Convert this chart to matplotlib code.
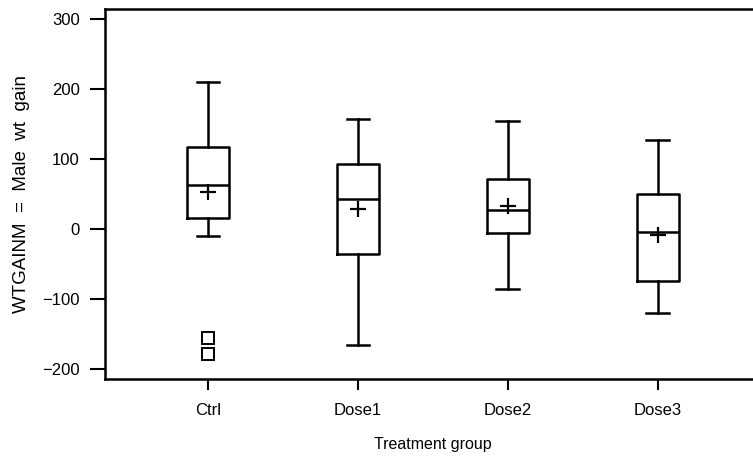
import matplotlib
matplotlib.use("Agg")
import matplotlib.pyplot as plt

categories = ["Ctrl", "Dose1", "Dose2", "Dose3"]
whislo = [-9.5, -165.7, -85.7, -120.0]
q1 = [15.2, -35.7, -5.7, -73.8]
med = [62.9, 42.9, 27.0, -4.8]
q3 = [117.6, 92.4, 71.4, 50.0]
whishi = [210.0, 157.0, 153.8, 126.7]
means = [53.0, 28.6, 33.3, -8.6]
fliers = [[-156.0, -178.6], [], [], []]
yticks = [-200, -100, 0, 100, 200, 300]

plt.rcParams['font.family'] = ['Liberation Sans', 'DejaVu Sans']

fig = plt.figure(figsize=(7.53, 4.61), dpi=100)
ax = fig.add_axes([105/753, 1 - 379/461, 1 - 105/753 + 0.01, (379 - 9)/461])

stats = []
for i, c in enumerate(categories):
    stats.append(dict(label=c, whislo=whislo[i], q1=q1[i], med=med[i], q3=q3[i],
                      whishi=whishi[i], mean=means[i], fliers=fliers[i]))

lw = 1.8
ax.bxp(stats, positions=[1, 2, 3, 4], widths=0.28, showmeans=True, showfliers=True,
       boxprops=dict(color='black', linewidth=lw),
       medianprops=dict(color='black', linewidth=lw),
       whiskerprops=dict(color='black', linewidth=lw),
       capprops=dict(color='black', linewidth=lw),
       capwidths=0.15,
       meanprops=dict(marker='+', markeredgecolor='black', markersize=11, markeredgewidth=1.6),
       flierprops=dict(marker='s', markerfacecolor='none', markeredgecolor='black',
                       markersize=8, markeredgewidth=1.4))

ax.set_xlim(1 - 103/150, 4 + 103/150)
ax.set_ylim(-214, 314)
ax.set_yticks(yticks)
ax.set_yticklabels([str(v).replace('-', '\u2212') for v in yticks])
ax.set_xticks([1, 2, 3, 4])
ax.set_xticklabels(categories)
ax.spines['right'].set_visible(False)
for s in ['left', 'top', 'bottom']:
    ax.spines[s].set_linewidth(1.8)
ax.tick_params(axis='x', direction='out', length=8, width=1.5, labelsize=12, pad=9)
ax.tick_params(axis='y', direction='out', length=11, width=1.5, labelsize=12, pad=7)
ax.set_xlabel("Treatment group", fontsize=11.5, labelpad=14)
ax.set_ylabel("WTGAINM  =  Male  wt  gain", fontsize=13.5, labelpad=9)

fig.savefig("out.png", dpi=100)
